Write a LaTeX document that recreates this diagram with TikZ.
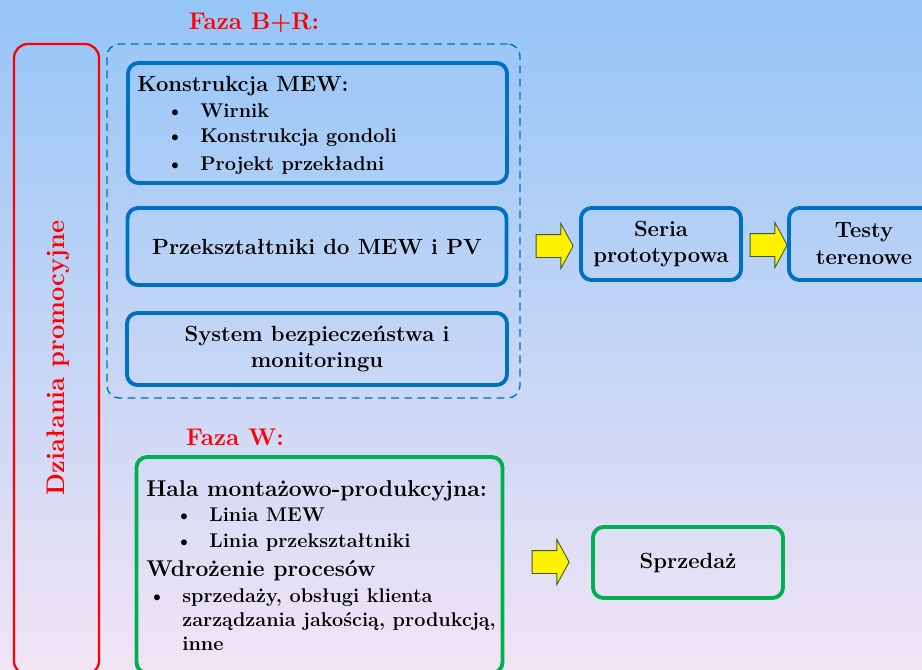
\documentclass[tikz,border=0pt]{standalone}
\usepackage{fontspec}
\usetikzlibrary{positioning,shapes.arrows}

\definecolor{bgtop}{RGB}{149,197,247}
\definecolor{bgbot}{RGB}{241,228,245}
\definecolor{boxblue}{RGB}{0,112,192}
\definecolor{boxgreen}{RGB}{0,176,80}
\definecolor{arrowrim}{RGB}{60,90,50}

\newcommand{\punkt}[2]{\hspace*{#1}\makebox[0.68cm][l]{\textbullet}#2}

\begin{document}
\begin{tikzpicture}[font=\bfseries]
\tikzstyle{bx}=[draw=boxblue,line width=2.2pt,rounded corners=6pt,align=center,font=\fontsize{12.5}{15.3}\selectfont\bfseries]
\tikzstyle{gbx}=[bx,draw=boxgreen]
\tikzstyle{faza}=[text=red,font=\fontsize{13.7}{16}\selectfont\bfseries]
\tikzstyle{lst}=[anchor=north west,inner sep=0pt,align=left,font=\fontsize{11.3}{14.6}\selectfont\bfseries]
\tikzstyle{yarr}=[single arrow,draw=arrowrim,fill=yellow,line width=0.5pt,inner xsep=0pt,inner ysep=0.22cm,minimum height=0.74cm,single arrow head extend=0.22cm,single arrow tip angle=123]
\useasboundingbox (0,0) rectangle (18.44,-13.38);
\clip (0,0) rectangle (18.44,-13.38);
\shade[top color=bgtop,bottom color=bgbot] (0,0) rectangle (18.44,-13.38);

% faza B+R
\node[faza] (fbr) at (5.08,-0.46) {Faza B+R:};
\node[draw=red,line width=1.3pt,rounded corners=8pt,minimum width=1.7cm,minimum height=12.62cm] (promo) at (1.13,-7.19) {};
\node[faza,font=\fontsize{14.5}{16}\selectfont\bfseries,rotate=90] (promotxt) at (1.16,-7.16) {Działania promocyjne};
\node[draw=boxblue,dash pattern=on 4.5pt off 3pt,line width=0.8pt,rounded corners=7pt,minimum width=8.26cm,minimum height=7.08cm] (br) at (6.27,-4.42) {};
\node[bx,minimum width=7.58cm,minimum height=2.4cm] (mew) at (6.35,-2.46) {};
\node[lst] (mewtxt) at (2.74,-1.52) {{\fontsize{12.5}{14.6}\selectfont Konstrukcja MEW:}\\
  \punkt{0.58cm}{Wirnik}\\
  \punkt{0.58cm}{Konstrukcja gondoli}\\[1pt]
  \punkt{0.58cm}{Projekt przekładni}};
\node[bx,minimum width=7.58cm,minimum height=1.54cm] (conv) at (6.34,-4.93) {Przekształtniki do MEW i PV};
\node[bx,minimum width=7.6cm,minimum height=1.44cm] (safe) at (6.34,-6.98) {System bezpieczeństwa i\\monitoringu};
\node[yarr] (a1) at (11.03,-4.92) {};
\node[bx,minimum width=3.2cm,minimum height=1.44cm] (proto) at (13.22,-4.88) {Seria\\prototypowa};
\node[yarr] (a2) at (15.31,-4.9) {};
\node[bx,minimum width=3.0cm,minimum height=1.44cm] (test) at (17.28,-4.88) {Testy\\terenowe};

% faza W
\node[faza] (fw) at (4.7,-8.74) {Faza W:};
\node[gbx,minimum width=7.32cm,minimum height=4.32cm] (hala) at (6.39,-11.3) {};
\node[lst] (halatxt) at (2.92,-9.6) {{\fontsize{13}{14.6}\selectfont Hala montażowo-produkcyjna:}\\
  \punkt{0.58cm}{Linia MEW}\\
  \punkt{0.58cm}{Linia przekształtniki}\\[2pt]
  {\fontsize{13}{14.6}\selectfont Wdrożenie procesów}\\
  \punkt{0.04cm}{sprzedaży, obsługi klienta}\\[-1pt]
  \hspace*{0.72cm}zarządzania jakością, produkcją,\\[-1pt]
  \hspace*{0.72cm}inne};
\node[yarr] (a3) at (10.95,-11.24) {};
\node[gbx,minimum width=3.8cm,minimum height=1.42cm] (sale) at (13.76,-11.25) {Sprzedaż};
\end{tikzpicture}
\end{document}
